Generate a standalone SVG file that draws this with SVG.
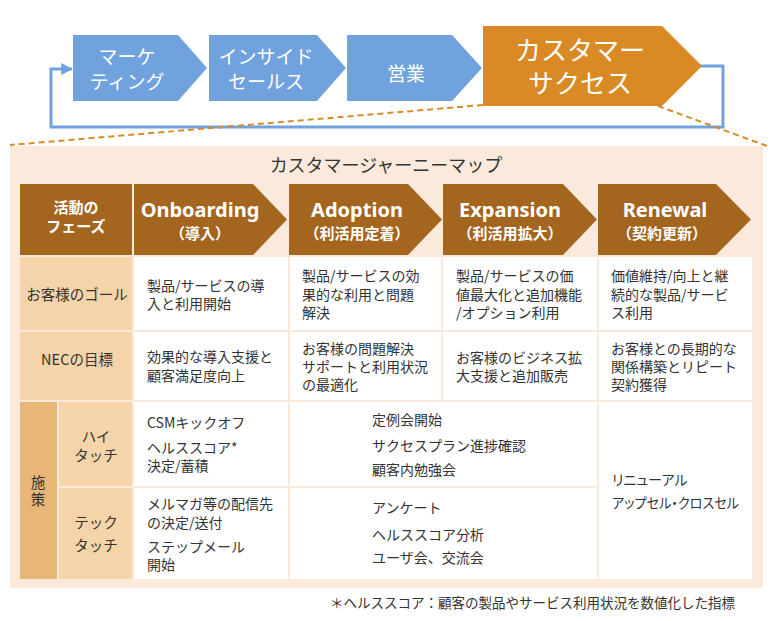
<svg xmlns="http://www.w3.org/2000/svg" width="772" height="621" viewBox="0 0 772 621">
<defs>
<style>
text{font-family:"Noto Sans CJK JP","Noto Sans",sans-serif;}
.flow{fill:#70a2de;}
.cs{fill:#da8a25;}
.wt{fill:#ffffff;}
.hd{fill:#a4651f;}
.lab{fill:#f5d4aa;}
.sub{fill:#e8b676;}
.cell{fill:#ffffff;}
.ft{font-size:19px;fill:#ffffff;text-anchor:middle;}
.ph{font-family:"Noto Sans","Noto Sans CJK JP",sans-serif;font-size:20px;font-weight:700;fill:#ffffff;text-anchor:middle;}
.phs{font-size:15px;font-weight:700;fill:#ffffff;text-anchor:middle;}
.tx{font-size:14px;fill:#333333;}
.pa{font-feature-settings:"palt";}
.lc{font-size:14.5px;fill:#333333;text-anchor:middle;}
.dash{fill:none;stroke:#d98a2a;stroke-width:2;stroke-dasharray:6 4;}
</style>
<marker id="arr" viewBox="0 0 10 10" refX="9" refY="5" markerWidth="4" markerHeight="4" orient="auto" markerUnits="strokeWidth">
<path d="M0,0 L10,5 L0,10 Z" fill="#70a2de"/>
</marker>
</defs>
<rect width="772" height="621" fill="#ffffff"/>

<!-- panel -->
<rect id="panel" x="10" y="146" width="753" height="442" fill="#fbeadb"/>

<g id="connectors">
<polyline points="700,66 723,66 723,127 51,127 51,69 72,69" fill="none" stroke="#70a2de" stroke-width="3" marker-end="url(#arr)"/>
<line class="dash" x1="483" y1="105" x2="10" y2="145"/>
<line class="dash" x1="658" y1="106" x2="767" y2="146"/>
</g>

<g id="n-marketing">
<polygon class="flow" points="73,35 178,35 207,68 178,101 73,101"/>
<text class="ft" x="127" y="64">マーケ</text>
<text class="ft" x="127" y="89">ティング</text>
</g>
<g id="n-insidesales">
<polygon class="flow" points="209,35 317,35 346,68 317,101 209,101"/>
<text class="ft" x="266" y="64">インサイド</text>
<text class="ft" x="266" y="89">セールス</text>
</g>
<g id="n-sales">
<polygon class="flow" points="347,35 452,35 482,68 452,101 347,101"/>
<text class="ft" x="406" y="81">営業</text>
</g>
<g id="n-cs">
<polygon class="cs" points="483,26 662,26 702,66 662,106 483,106"/>
<text class="ft" x="580" y="60" style="font-size:26px">カスタマー</text>
<text class="ft" x="580" y="93" style="font-size:26px">サクセス</text>
</g>

<g id="title">
<text x="386" y="172" style="font-size:18px;fill:#333333;text-anchor:middle">カスタマージャーニーマップ</text>
</g>

<!-- header row -->
<g id="h-phase">
<rect class="hd" x="20" y="184" width="112" height="71"/>
<text class="phs" x="76" y="213">活動の</text>
<text class="phs" x="76" y="232">フェーズ</text>
</g>
<g id="h-onboarding">
<polygon class="hd" points="134,184 253,184 287,219.5 253,255 134,255"/>
<text class="ph" x="200" y="217">Onboarding</text>
<text class="phs" x="200" y="239">（導入）</text>
</g>
<g id="h-adoption">
<polygon class="hd" points="289,184 408,184 442,219.5 408,255 289,255"/>
<text class="ph" x="357" y="217">Adoption</text>
<text class="phs" x="357" y="239">（利活用定着）</text>
</g>
<g id="h-expansion">
<polygon class="hd" points="443,184 563,184 597,219.5 563,255 443,255"/>
<text class="ph" x="510" y="217">Expansion</text>
<text class="phs" x="510" y="239">（利活用拡大）</text>
</g>
<g id="h-renewal">
<polygon class="hd" points="598,184 716,184 751,219.5 716,255 598,255"/>
<text class="ph" x="665" y="217">Renewal</text>
<text class="phs" x="662" y="239">（契約更新）</text>
</g>

<!-- row 1 -->
<g id="r-goal">
<rect class="lab" x="20" y="257" width="112" height="73"/>
<text class="lc" x="77" y="300">お客様のゴール</text>
</g>
<g id="c-goal-1">
<rect class="cell" x="134" y="257" width="154" height="73"/>
<text class="tx" x="147" y="291">製品/サービスの導</text>
<text class="tx" x="147" y="309">入と利用開始</text>
</g>
<g id="c-goal-2">
<rect class="cell" x="290" y="257" width="151" height="73"/>
<text class="tx" x="302" y="281">製品/サービスの効</text>
<text class="tx" x="302" y="300">果的な利用と問題</text>
<text class="tx" x="302" y="318">解決</text>
</g>
<g id="c-goal-3">
<rect class="cell" x="443" y="257" width="154" height="73"/>
<text class="tx" x="456" y="281">製品/サービスの価</text>
<text class="tx" x="456" y="300">値最大化と追加機能</text>
<text class="tx" x="456" y="318">/オプション利用</text>
</g>
<g id="c-goal-4">
<rect class="cell" x="599" y="257" width="153" height="73"/>
<text class="tx" x="611" y="281">価値維持/向上と継</text>
<text class="tx" x="611" y="300">続的な製品/サービ</text>
<text class="tx" x="611" y="318">ス利用</text>
</g>

<!-- row 2 -->
<g id="r-nec">
<rect class="lab" x="20" y="332" width="112" height="68"/>
<text class="lc" x="77" y="365">NECの目標</text>
</g>
<g id="c-nec-1">
<rect class="cell" x="134" y="332" width="154" height="68"/>
<text class="tx" x="147" y="362">効果的な導入支援と</text>
<text class="tx" x="147" y="381">顧客満足度向上</text>
</g>
<g id="c-nec-2">
<rect class="cell" x="290" y="332" width="151" height="68"/>
<text class="tx" x="302" y="354">お客様の問題解決</text>
<text class="tx" x="302" y="372">サポートと利用状況</text>
<text class="tx" x="302" y="390">の最適化</text>
</g>
<g id="c-nec-3">
<rect class="cell" x="443" y="332" width="154" height="68"/>
<text class="tx" x="456" y="363">お客様のビジネス拡</text>
<text class="tx" x="456" y="381">大支援と追加販売</text>
</g>
<g id="c-nec-4">
<rect class="cell" x="599" y="332" width="153" height="68"/>
<text class="tx" x="611" y="354">お客様との長期的な</text>
<text class="tx" x="611" y="372">関係構築とリピート</text>
<text class="tx" x="611" y="390">契約獲得</text>
</g>

<!-- measures -->
<g id="r-measures">
<rect class="sub" x="20" y="402" width="37" height="177"/>
<text class="lc" x="38" y="488">施</text>
<text class="lc" x="38" y="505">策</text>
</g>
<g id="r-hightouch">
<rect class="lab" x="59" y="402" width="73" height="84"/>
<text class="lc" x="96" y="442">ハイ</text>
<text class="lc" x="96" y="461">タッチ</text>
</g>
<g id="r-techtouch">
<rect class="lab" x="59" y="488" width="73" height="91"/>
<text class="lc" x="96" y="528">テック</text>
<text class="lc" x="96" y="551">タッチ</text>
</g>
<g id="c-high-1">
<rect class="cell" x="134" y="402" width="154" height="84"/>
<text class="tx" x="147" y="428">CSMキックオフ</text>
<text class="tx" x="147" y="453">ヘルススコア*</text>
<text class="tx" x="147" y="471">決定/蓄積</text>
</g>
<g id="c-high-23">
<rect class="cell" x="290" y="402" width="307" height="84"/>
<text class="tx" x="372" y="425">定例会開始</text>
<text class="tx" x="372" y="451">サクセスプラン進捗確認</text>
<text class="tx" x="372" y="475">顧客内勉強会</text>
</g>
<g id="c-touch-4">
<rect class="cell" x="599" y="402" width="153" height="177"/>
<text class="tx pa" x="612" y="485">リニューアル</text>
<text class="tx pa" x="612" y="508" textLength="127" lengthAdjust="spacingAndGlyphs">アップセル・クロスセル</text>
</g>
<g id="c-tech-1">
<rect class="cell" x="134" y="488" width="154" height="91"/>
<text class="tx" x="147" y="509">メルマガ等の配信先</text>
<text class="tx" x="147" y="528">の決定/送付</text>
<text class="tx" x="147" y="552">ステップメール</text>
<text class="tx" x="147" y="570">開始</text>
</g>
<g id="c-tech-23">
<rect class="cell" x="290" y="488" width="307" height="91"/>
<text class="tx" x="372" y="513">アンケート</text>
<text class="tx" x="372" y="540">ヘルススコア分析</text>
<text class="tx" x="372" y="563">ユーザ会、交流会</text>
</g>

<g id="footnote">
<text class="tx" x="330" y="608" style="font-size:13.5px">＊ヘルススコア：顧客の製品やサービス利用状況を数値化した指標</text>
</g>
</svg>
